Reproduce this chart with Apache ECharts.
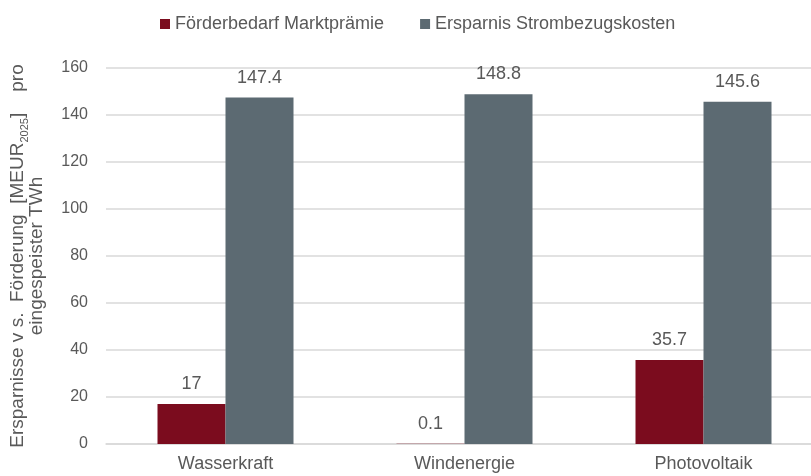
<!DOCTYPE html>
<html><head><meta charset="utf-8">
<script src="https://cdn.jsdelivr.net/npm/echarts@6/dist/echarts.min.js"></script>
<style>html,body{margin:0;padding:0;background:#fff}#c{width:811px;height:476px}</style>
</head><body><div id="c"></div>
<script>
const categories = ['Wasserkraft', 'Windenergie', 'Photovoltaik'];
const seriesNames = ['Förderbedarf Marktprämie', 'Ersparnis Strombezugskosten'];
const foerderbedarf = [17, 0.1, 35.7];
const ersparnis = [147.4, 148.8, 145.6];
const yTicks = [0, 20, 40, 60, 80, 100, 120, 140, 160];

const chart = echarts.init(document.getElementById('c'));
const font = 'Liberation Sans, Arial, sans-serif';
const txt = '#595959';
chart.setOption({
  animation: false,
  textStyle: {fontFamily: font},
  legend: {
    top: 10, left: 155, itemWidth: 10, itemHeight: 10, itemGap: 36,
    icon: 'rect',
    textStyle: {fontSize: 18, color: txt, fontFamily: font},
    data: seriesNames
  },
  grid: {left: 106, right: -12, top: 68, bottom: 32, containLabel: false, outerBoundsMode: 'none'},
  xAxis: {
    type: 'category', data: categories,
    axisTick: {show: false},
    axisLine: {lineStyle: {color: '#d9d9d9', width: 1.5}},
    axisLabel: {fontSize: 18, color: txt, margin: 11, fontFamily: font}
  },
  yAxis: {
    type: 'value', min: yTicks[0], max: yTicks[yTicks.length - 1], interval: 20,
    axisLabel: {fontSize: 16, color: txt, margin: 18, fontFamily: font},
    splitLine: {lineStyle: {color: '#d9d9d9', width: 1.5}},
    axisLine: {show: false}, axisTick: {show: false},
    name: '{a|Ersparnisse v s.  Förderung  [MEUR}{s|2025}{a|]    pro}\n{a|eingespeister TWh}',
    nameLocation: 'middle', nameGap: 60, nameRotate: 90,
    nameTextStyle: {
      color: txt, fontFamily: font, align: 'center', lineHeight: 19,
      rich: {
        a: {fontSize: 19, color: txt, fontFamily: font, lineHeight: 19},
        s: {fontSize: 11, color: txt, fontFamily: font, verticalAlign: 'bottom', lineHeight: 19, padding: [0, 0, -3, 0]}
      }
    }
  },
  series: [
    {
      name: seriesNames[0], type: 'bar', data: foerderbedarf,
      barWidth: 68, barGap: '0%',
      itemStyle: {color: '#7b0c1e'},
      label: {show: true, position: 'top', distance: 11, fontSize: 18, color: txt, fontFamily: font}
    },
    {
      name: seriesNames[1], type: 'bar', data: ersparnis,
      barWidth: 68, barGap: '0%',
      itemStyle: {color: '#5c6a72'},
      label: {show: true, position: 'top', distance: 11, fontSize: 18, color: txt, fontFamily: font}
    }
  ]
});
</script></body></html>
